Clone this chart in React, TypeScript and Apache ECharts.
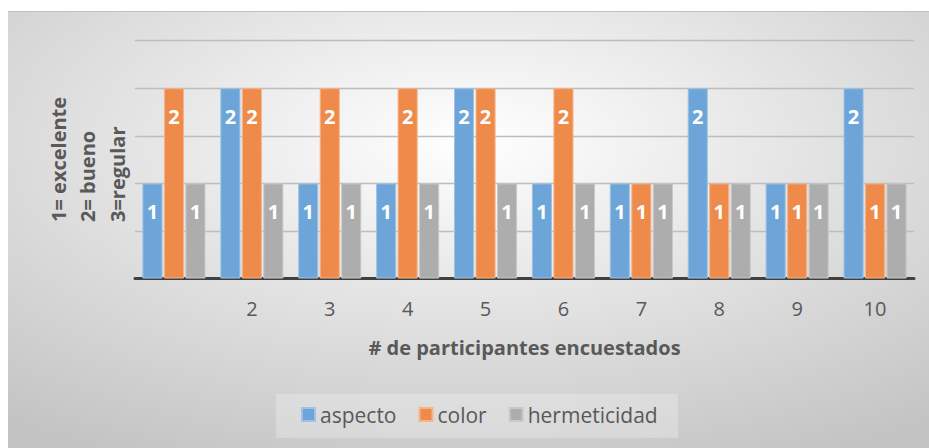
import React, { useEffect, useRef } from "react";
import * as echarts from "echarts";

const categories = ["", "2", "3", "4", "5", "6", "7", "8", "9", "10"];
const aspecto = [1, 2, 1, 1, 2, 1, 1, 2, 1, 2];
const color = [2, 2, 2, 2, 2, 2, 1, 1, 1, 1];
const hermeticidad = [1, 1, 1, 1, 1, 1, 1, 1, 1, 1];
const seriesNames = ["aspecto", "color", "hermeticidad"];
const yTitleLines = ["1= excelente", "2= bueno", "3=regular"];
const xTitle = "# de participantes encuestados";

const FONT = "'Open Sans', 'Noto Sans', sans-serif";
const TEXT = "#595959";

export default function App() {
  const ref = useRef<HTMLDivElement>(null);
  useEffect(() => {
    if (!ref.current) return;
    const chart = echarts.init(ref.current, undefined, { renderer: "svg" });
    const fills = ["#6DA5D9", "#EE8B4A", "#ADADAD"];
    const borders = ["#9CC3E6", "#F5B48A", "#C9C9C9"];
    const datas = [aspecto, color, hermeticidad];
    chart.setOption({
      animation: false,
      backgroundColor: {
        type: "radial",
        x: 0.5,
        y: 0.3,
        r: 0.8,
        colorStops: [
          { offset: 0, color: "#ffffff" },
          { offset: 1, color: "#c4c4c4" },
        ],
      },
      textStyle: { fontFamily: FONT },
      grid: { left: 127, right: 15, top: 29.7, bottom: 169.5 },
      xAxis: {
        type: "category",
        data: categories,
        axisLine: { show: true, lineStyle: { color: "#404040", width: 3 } },
        axisTick: { show: false },
        axisLabel: { color: TEXT, fontSize: 20, margin: 20, fontFamily: FONT },
      },
      yAxis: {
        type: "value",
        min: 0,
        max: 2.5,
        interval: 0.5,
        axisLabel: { show: false },
        axisLine: { show: false },
        axisTick: { show: false },
        splitLine: { lineStyle: { color: "#bdbdbd", width: 1.3 } },
      },
      legend: {
        data: seriesNames,
        left: 288,
        top: 388,
        itemWidth: 13,
        itemHeight: 13,
        itemGap: 22,
        icon: "rect",
        textStyle: { color: TEXT, fontSize: 21, fontFamily: FONT },
      },
      graphic: [
        {
          type: "rect",
          shape: { x: 268, y: 383, width: 402, height: 44 },
          style: { fill: "rgba(255,255,255,0.25)" },
          z: -1,
        },
        {
          type: "line",
          shape: { x1: 0, y1: 0.5, x2: 921, y2: 0.5 },
          style: { stroke: "#bfbfbf", lineWidth: 1 },
        },
        ...yTitleLines.map((t, i) => ({
          type: "text",
          x: 50 + i * 29.5,
          y: 211,
          rotation: Math.PI / 2,
          style: {
            text: t,
            fill: TEXT,
            font: `bold 20px ${FONT}`,
            align: "left",
            verticalAlign: "middle",
          },
        })),
        {
          type: "text",
          x: 516.5,
          y: 336,
          style: {
            text: xTitle,
            fill: TEXT,
            font: `bold 20px ${FONT}`,
            align: "center",
            verticalAlign: "middle",
          },
        },
      ],
      series: datas.map((d, i) => ({
        name: seriesNames[i],
        type: "bar",
        data: d,
        barGap: "7%",
        barCategoryGap: "19%",
        itemStyle: { color: fills[i], borderColor: borders[i], borderWidth: 1 },
        label: {
          show: true,
          position: "insideTop",
          distance: 18,
          color: "#ffffff",
          fontWeight: "bold",
          fontSize: 20,
          fontFamily: FONT,
        },
      })),
    });
    return () => chart.dispose();
  }, []);
  return (
    <div
      ref={ref}
      style={{ position: "absolute", left: 8, top: 11, width: 921, height: 437 }}
    />
  );
}
